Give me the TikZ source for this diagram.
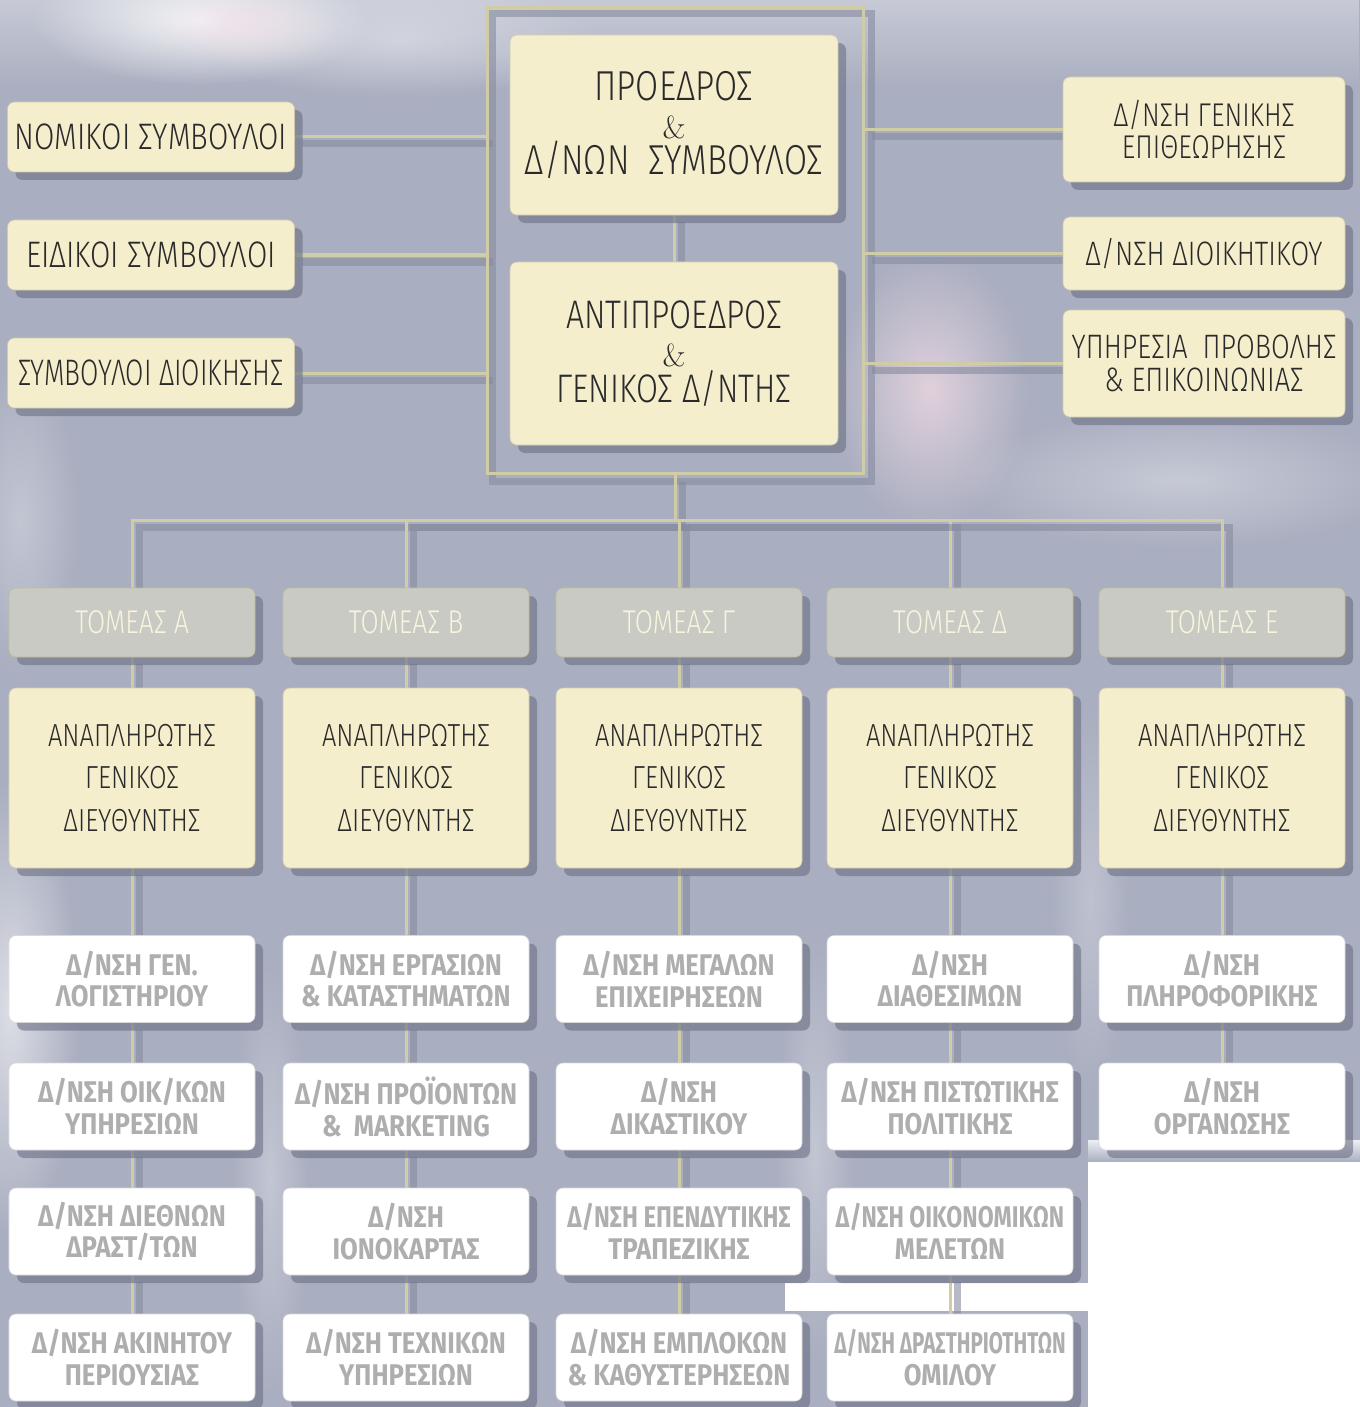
\documentclass[tikz,border=0pt]{standalone}
\usepackage{fontspec}
\usepackage{graphicx}
\newfontfamily\lightf{Fira Sans Light}[FakeStretch=0.8]
\newfontfamily\heavyf{Fira Sans Bold}[FakeStretch=0.86]
\usetikzlibrary{shadows,fadings}
\definecolor{bgc}{HTML}{A9AEC0}
\definecolor{creamc}{HTML}{F5EECD}
\definecolor{tomc}{HTML}{C9CAC4}
\definecolor{khaki}{HTML}{D0CCA6}
\definecolor{shc}{HTML}{6A6F84}
\definecolor{lnsh}{HTML}{868BA0}
\definecolor{txtd}{HTML}{2A2A2A}
\definecolor{txtg}{HTML}{AEAEAE}
\definecolor{tomtxt}{HTML}{F8F4DE}
\definecolor{pinkglow}{HTML}{F3DCE6}
\pgfdeclarelayer{back}
\pgfdeclarelayer{conn}
\pgfsetlayers{back,conn,main}
\tikzfading[name=glow, inner color=transparent!0, outer color=transparent!100]
\tikzfading[name=fadedown, top color=transparent!0, bottom color=transparent!100]
\tikzset{
  boxbase/.style={rounded corners=7bp, inner sep=0pt, align=center,
    drop shadow={shadow xshift=8bp, shadow yshift=-8bp, fill=shc, opacity=.6}},
  creambox/.style={boxbase, fill=creamc, draw=creamc!85!black, line width=.6bp,
    text=txtd, font=\lightf\fontsize{35}{35}\selectfont},
  sidebox/.style={creambox, font=\lightf\fontsize{37}{35}\selectfont,
    minimum width=287bp, minimum height=70bp},
  rightbox/.style={creambox, font=\lightf\fontsize{34}{35}\selectfont,
    minimum width=282bp},
  topbox/.style={creambox, font=\lightf\fontsize{42}{35}\selectfont,
    minimum width=328bp},
  tombox/.style={boxbase, fill=tomc, draw=khaki!80!gray, line width=.8bp,
    text=tomtxt, font=\lightf\fontsize{33}{30}\selectfont,
    minimum width=246bp, minimum height=69bp},
  anabox/.style={creambox, font=\lightf\fontsize{32}{35}\selectfont,
    minimum width=246bp, minimum height=180bp},
  whbox/.style={boxbase, fill=white, draw=gray!30, line width=.6bp,
    text=txtg, font=\heavyf\fontsize{30}{32}\selectfont,
    minimum width=246bp, minimum height=87bp},
  lk/.style={draw=khaki, line width=3bp},
  lksh/.style={draw=lnsh, line width=7bp, opacity=.6},
  framebox/.style={draw=khaki, line width=3bp, minimum width=376bp,
    minimum height=465bp, inner sep=0pt},
}
\newcommand\lnk[1]{\draw[lksh, transform canvas={shift={(7,7)}}] #1; \draw[lk] #1;}
\newcommand\amp{{\rmfamily\fontsize{32}{30}\selectfont\&}}
\newcommand\narrow[2]{\scalebox{#1}[1]{#2}}
\begin{document}
\begin{tikzpicture}[x=1bp, y=-1bp]
\useasboundingbox (0,0) rectangle (1360,1407);
% ---------- nodes ----------
\node[framebox] (fr) at (675,240.5) {};
\node[sidebox] (nom) at (151,137) {ΝΟΜΙΚΟΙ ΣΥΜΒΟΥΛΟΙ};
\node[sidebox] (eid) at (151,255) {ΕΙΔΙΚΟΙ ΣΥΜΒΟΥΛΟΙ};
\node[sidebox] (sdi) at (151,373) {\narrow{0.9}{ΣΥΜΒΟΥΛΟΙ ΔΙΟΙΚΗΣΗΣ}};
\node[topbox, minimum height=180bp] (pro) at (674,125) {ΠΡΟΕΔΡΟΣ\\[3bp]\amp\\[1bp]Δ/ΝΩΝ~~ΣΥΜΒΟΥΛΟΣ};
\node[topbox, minimum height=183bp, font=\lightf\fontsize{40}{35}\selectfont] (ant) at (674,353.5) {ΑΝΤΙΠΡΟΕΔΡΟΣ\\[3bp]\amp\\[1bp]ΓΕΝΙΚΟΣ Δ/ΝΤΗΣ};
\node[rightbox, minimum height=105bp, font=\lightf\fontsize{33}{32}\selectfont] (gen) at (1204,129.5) {Δ/ΝΣΗ ΓΕΝΙΚΗΣ\\ΕΠΙΘΕΩΡΗΣΗΣ};
\node[rightbox, minimum height=73bp] (dio) at (1204,253.5) {Δ/ΝΣΗ ΔΙΟΙΚΗΤΙΚΟΥ};
\node[rightbox, minimum height=107bp, font=\lightf\fontsize{34}{33}\selectfont] (ypi) at (1204,363.5) {ΥΠΗΡΕΣΙΑ~~ΠΡΟΒΟΛΗΣ\\\& ΕΠΙΚΟΙΝΩΝΙΑΣ};
% sectors
\foreach \c/\x/\l in {A/132/Α, B/406/Β, G/679/Γ, D/950/Δ, E/1222/Ε}{
  \node[tombox] (t\c) at (\x,622.5) {ΤΟΜΕΑΣ \l};
  \node[anabox] (a\c) at (\x,778) {ΑΝΑΠΛΗΡΩΤΗΣ\\[8bp]ΓΕΝΙΚΟΣ\\[8bp]ΔΙΕΥΘΥΝΤΗΣ};
}
% directorates
\node[whbox] (r1A) at (132,979) {Δ/ΝΣΗ ΓΕΝ.\\ΛΟΓΙΣΤΗΡΙΟΥ};
\node[whbox] (r2A) at (132,1106.5) {Δ/ΝΣΗ ΟΙΚ/ΚΩΝ\\ΥΠΗΡΕΣΙΩΝ};
\node[whbox] (r3A) at (132,1231.5) {Δ/ΝΣΗ ΔΙΕΘΝΩΝ\\ΔΡΑΣΤ/ΤΩΝ};
\node[whbox] (r4A) at (132,1357.5) {Δ/ΝΣΗ ΑΚΙΝΗΤΟΥ\\ΠΕΡΙΟΥΣΙΑΣ};
\node[whbox] (r1B) at (406,979) {Δ/ΝΣΗ ΕΡΓΑΣΙΩΝ\\\& ΚΑΤΑΣΤΗΜΑΤΩΝ};
\node[whbox] (r2B) at (406,1106.5) {Δ/ΝΣΗ ΠΡΟΪΟΝΤΩΝ\\\&~~MARKETING};
\node[whbox] (r3B) at (406,1231.5) {Δ/ΝΣΗ\\ΙΟΝΟΚΑΡΤΑΣ};
\node[whbox] (r4B) at (406,1357.5) {Δ/ΝΣΗ ΤΕΧΝΙΚΩΝ\\ΥΠΗΡΕΣΙΩΝ};
\node[whbox] (r1G) at (679,979) {Δ/ΝΣΗ ΜΕΓΑΛΩΝ\\ΕΠΙΧΕΙΡΗΣΕΩΝ};
\node[whbox] (r2G) at (679,1106.5) {Δ/ΝΣΗ\\ΔΙΚΑΣΤΙΚΟΥ};
\node[whbox] (r3G) at (679,1231.5) {\narrow{0.93}{Δ/ΝΣΗ ΕΠΕΝΔΥΤΙΚΗΣ}\\ΤΡΑΠΕΖΙΚΗΣ};
\node[whbox] (r4G) at (679,1357.5) {Δ/ΝΣΗ ΕΜΠΛΟΚΩΝ\\\& ΚΑΘΥΣΤΕΡΗΣΕΩΝ};
\node[whbox] (r1D) at (950,979) {Δ/ΝΣΗ\\ΔΙΑΘΕΣΙΜΩΝ};
\node[whbox] (r2D) at (950,1106.5) {Δ/ΝΣΗ ΠΙΣΤΩΤΙΚΗΣ\\ΠΟΛΙΤΙΚΗΣ};
\node[whbox] (r3D) at (950,1231.5) {\narrow{0.9}{Δ/ΝΣΗ ΟΙΚΟΝΟΜΙΚΩΝ}\\ΜΕΛΕΤΩΝ};
\node[whbox] (r4D) at (950,1357.5) {\narrow{0.8}{Δ/ΝΣΗ ΔΡΑΣΤΗΡΙΟΤΗΤΩΝ}\\ΟΜΙΛΟΥ};
\node[whbox] (r1E) at (1222,979) {Δ/ΝΣΗ\\ΠΛΗΡΟΦΟΡΙΚΗΣ};
\node[whbox] (r2E) at (1222,1106.5) {Δ/ΝΣΗ\\ΟΡΓΑΝΩΣΗΣ};
% ---------- background ----------
\begin{pgfonlayer}{back}
\fill[bgc] (0,0) rectangle (1360,1407);
\fill[white, opacity=.35, path fading=fadedown] (0,0) rectangle (1360,90);
\fill[white, opacity=.8, path fading=glow] (200,20) ellipse (170 and 65);
\fill[pinkglow, opacity=.6, path fading=glow] (250,25) ellipse (90 and 40);
\fill[pinkglow, opacity=.75, path fading=glow] (930,390) ellipse (100 and 140);
\fill[white, opacity=.35, path fading=glow] (1180,480) ellipse (230 and 70);
\fill[white, opacity=.35, path fading=glow] (400,40) ellipse (200 and 60);
\fill[white, opacity=.6, path fading=glow] (10,1010) ellipse (70 and 230);
\fill[white, opacity=.3, path fading=glow] (20,520) ellipse (60 and 160);
\fill[white, opacity=.3, path fading=glow] (270,1180) ellipse (40 and 220);
\fill[white, opacity=.3, path fading=glow] (815,1150) ellipse (40 and 220);
\fill[white, opacity=.25, path fading=glow] (1090,900) ellipse (40 and 200);
\fill[white] (1088,1162) rectangle (1360,1407);
\fill[white, path fading=fadedown, opacity=.8] (1088,1140) rectangle (1360,1162);
\fill[white] (785,1283) rectangle (1088,1311);
\end{pgfonlayer}
% ---------- connectors ----------
\begin{pgfonlayer}{conn}
\draw[lksh, transform canvas={shift={(7,7)}}] (fr.north west) rectangle (fr.south east);
\foreach \n in {nom,eid,sdi}{\lnk{(\n.east) -- (\n.east -| fr.west)}}
\foreach \n in {gen,dio,ypi}{\lnk{(\n.west -| fr.east) -- (\n.west)}}
\lnk{(pro.south) -- (ant.north)}
\path (fr.south) ++(0,46) coordinate (bus);
\lnk{(fr.south) -- (bus)}
\foreach \c in {A,B,G,D,E}{\lnk{(bus) -| (t\c.north)}}
\foreach \c in {A,B,G,D,E}{\lnk{(t\c.south) -- (a\c.north)}
  \lnk{(a\c.south) -- (r1\c.north)}
  \lnk{(r1\c.south) -- (r2\c.north)}}
\foreach \c in {A,B,G,D}{\lnk{(r2\c.south) -- (r3\c.north)}
  \lnk{(r3\c.south) -- (r4\c.north)}}
\end{pgfonlayer}
\end{tikzpicture}
\end{document}
